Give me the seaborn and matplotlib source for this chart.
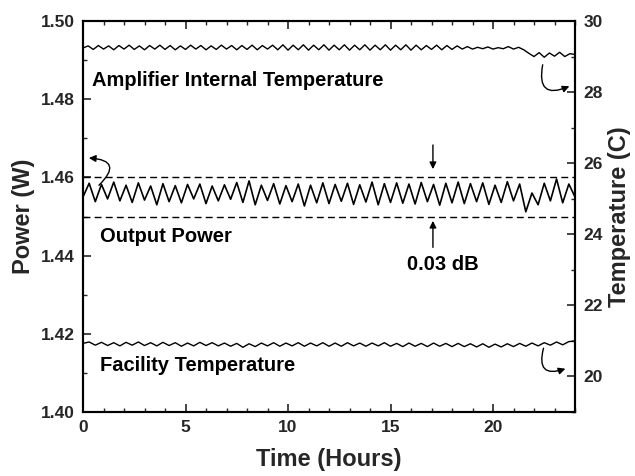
import numpy as np
import pandas as pd
import matplotlib
matplotlib.use("Agg")
import matplotlib.pyplot as plt
from matplotlib.ticker import MultipleLocator
import seaborn as sns

# ---------------- data ----------------
power_step = 0.3
power_w = [1.4550, 1.4585, 1.4538, 1.4582, 1.4545, 1.4588, 1.4540, 1.4580, 1.4536, 1.4586,
           1.4542, 1.4578, 1.4530, 1.4584, 1.4538, 1.4579, 1.4535, 1.4582, 1.4545, 1.4583,
           1.4533, 1.4578, 1.4540, 1.4581, 1.4544, 1.4587, 1.4536, 1.4591, 1.4530, 1.4580,
           1.4541, 1.4584, 1.4532, 1.4579, 1.4538, 1.4583, 1.4527, 1.4580, 1.4535, 1.4586,
           1.4533, 1.4582, 1.4539, 1.4585, 1.4531, 1.4581, 1.4537, 1.4588, 1.4530, 1.4584,
           1.4536, 1.4586, 1.4534, 1.4583, 1.4532, 1.4587, 1.4538, 1.4582, 1.4529, 1.4585,
           1.4535, 1.4588, 1.4533, 1.4584, 1.4538, 1.4586, 1.4531, 1.4580, 1.4536, 1.4589,
           1.4540, 1.4583, 1.4512, 1.4560, 1.4530, 1.4585, 1.4540, 1.4596, 1.4535, 1.4583, 1.4550]

amp_step = 0.25
amp_temp_c = [29.24, 29.30, 29.20, 29.31, 29.21, 29.30, 29.19, 29.31, 29.21, 29.32,
              29.20, 29.30, 29.19, 29.31, 29.21, 29.32, 29.20, 29.31, 29.19, 29.30,
              29.20, 29.32, 29.21, 29.31, 29.19, 29.30, 29.20, 29.32, 29.21, 29.31,
              29.19, 29.31, 29.20, 29.32, 29.19, 29.31, 29.21, 29.32, 29.19, 29.33,
              29.18, 29.32, 29.19, 29.33, 29.18, 29.32, 29.19, 29.33, 29.18, 29.32,
              29.19, 29.33, 29.18, 29.32, 29.19, 29.33, 29.18, 29.32, 29.19, 29.33,
              29.18, 29.32, 29.19, 29.33, 29.18, 29.32, 29.19, 29.31, 29.20, 29.32,
              29.19, 29.31, 29.20, 29.30, 29.21, 29.28, 29.21, 29.26, 29.22, 29.27,
              29.21, 29.25, 29.22, 29.28, 29.21, 29.26, 29.19, 29.09, 29.00, 29.11,
              28.98, 29.10, 29.01, 29.12, 29.00, 29.08, 29.06]

fac_step = 0.3
facility_temp_c = [20.93, 20.97, 20.88, 20.96, 20.87, 20.95, 20.86, 20.96, 20.88, 20.97,
                   20.87, 20.95, 20.86, 20.96, 20.87, 20.95, 20.85, 20.94, 20.86, 20.96,
                   20.87, 20.95, 20.86, 20.94, 20.85, 20.93, 20.82, 20.92, 20.84, 20.94,
                   20.86, 20.95, 20.85, 20.94, 20.86, 20.95, 20.85, 20.94, 20.86, 20.95,
                   20.85, 20.94, 20.85, 20.95, 20.86, 20.94, 20.85, 20.94, 20.86, 20.95,
                   20.85, 20.93, 20.84, 20.94, 20.85, 20.93, 20.84, 20.94, 20.85, 20.93,
                   20.84, 20.93, 20.84, 20.92, 20.83, 20.92, 20.82, 20.91, 20.83, 20.92,
                   20.84, 20.93, 20.85, 20.94, 20.86, 20.95, 20.88, 20.97, 20.89, 20.98, 21.00]

limit_lines_w = [1.450, 1.460]

x_ticks = [0, 5, 10, 15, 20]
left_ticks = [1.40, 1.42, 1.44, 1.46, 1.48, 1.50]
right_ticks = [20, 22, 24, 26, 28, 30]

t_power = np.arange(len(power_w)) * power_step
t_amp = np.arange(len(amp_temp_c)) * amp_step
t_fac = np.arange(len(facility_temp_c)) * fac_step

df_power = pd.DataFrame({"t": t_power, "v": power_w})
df_amp = pd.DataFrame({"t": t_amp, "v": amp_temp_c})
df_fac = pd.DataFrame({"t": t_fac, "v": facility_temp_c})

# ---------------- style ----------------
sns.set_style("ticks")
plt.rcParams["font.family"] = ["Liberation Sans", "DejaVu Sans"]
plt.rcParams["font.weight"] = "bold"

fig = plt.figure(figsize=(6.35, 4.76), dpi=100)
ax = fig.add_axes([83 / 635, 1 - 412 / 476, (575 - 83) / 635, (412 - 21) / 476])
ax2 = ax.twinx()

sns.lineplot(data=df_power, x="t", y="v", ax=ax, color="black", lw=1.2)
sns.lineplot(data=df_amp, x="t", y="v", ax=ax2, color="black", lw=1.0)
sns.lineplot(data=df_fac, x="t", y="v", ax=ax2, color="black", lw=1.0)

for yv in limit_lines_w:
    ax.axhline(yv, color="black", lw=1.0, ls=(0, (5, 3)))

ax.set_xlim(0, 24)
ax.set_ylim(1.40, 1.50)
ax2.set_ylim(19, 30)

ax.set_xticks(x_ticks)
ax.set_yticks(left_ticks)
ax2.set_yticks(right_ticks)
ax.xaxis.set_minor_locator(MultipleLocator(1))
ax.yaxis.set_minor_locator(MultipleLocator(0.01))
ax2.yaxis.set_minor_locator(MultipleLocator(1))
ax.set_yticklabels([f"{v:.2f}" for v in left_ticks])

for a in (ax, ax2):
    for s in a.spines.values():
        s.set_linewidth(1.5)
        s.set_color("black")
ax.tick_params(axis="both", which="major", direction="in", length=6, width=1.2,
               labelsize=12.5, top=True, right=False, pad=6)
ax.tick_params(axis="both", which="minor", direction="in", length=3, width=1.0,
               top=True, right=False)
ax2.tick_params(axis="y", which="major", direction="in", length=6, width=1.2,
                labelsize=12.5, pad=6)
ax2.tick_params(axis="y", which="minor", direction="in", length=3, width=1.0)
for lab in ax.get_xticklabels() + ax.get_yticklabels() + ax2.get_yticklabels():
    lab.set_fontweight("bold")

ax.set_xlabel("Time (Hours)", fontsize=17, fontweight="bold", labelpad=9)
ax.set_ylabel("Power (W)", fontsize=17, fontweight="bold", labelpad=4)
ax2.set_ylabel("Temperature (C)", fontsize=17, fontweight="bold", labelpad=4)

# ---------------- annotations ----------------
tk = dict(fontsize=14.5, fontweight="bold", color="black")
ax.text(0.44, 1.4849, "Amplifier Internal Temperature", va="center", ha="left", **tk)
ax.text(0.83, 1.4448, "Output Power", va="center", ha="left", **tk)
ax.text(17.56, 1.4376, "0.03 dB", va="center", ha="center", **tk)
ax.text(0.83, 1.4120, "Facility Temperature", va="center", ha="left", **tk)

straight = dict(arrowstyle="-|>", color="black", lw=1.0, mutation_scale=10)
ax.annotate("", xy=(17.07, 1.4614), xytext=(17.07, 1.4690), arrowprops=straight)
ax.annotate("", xy=(17.07, 1.4496), xytext=(17.07, 1.4414), arrowprops=straight)

curved = dict(arrowstyle="-|>", color="black", lw=1.0, mutation_scale=10)
ax.annotate("", xy=(23.85, 1.4836), xytext=(22.45, 1.4895),
            arrowprops=dict(curved, connectionstyle="arc3,rad=1.0"))
ax.annotate("", xy=(0.15, 1.4650), xytext=(0.68, 1.4575),
            arrowprops=dict(curved, connectionstyle="arc3,rad=1.2"))
ax.annotate("", xy=(23.66, 1.4113), xytext=(22.50, 1.4170),
            arrowprops=dict(curved, connectionstyle="arc3,rad=1.0"))

fig.savefig("out.png", dpi=100)
